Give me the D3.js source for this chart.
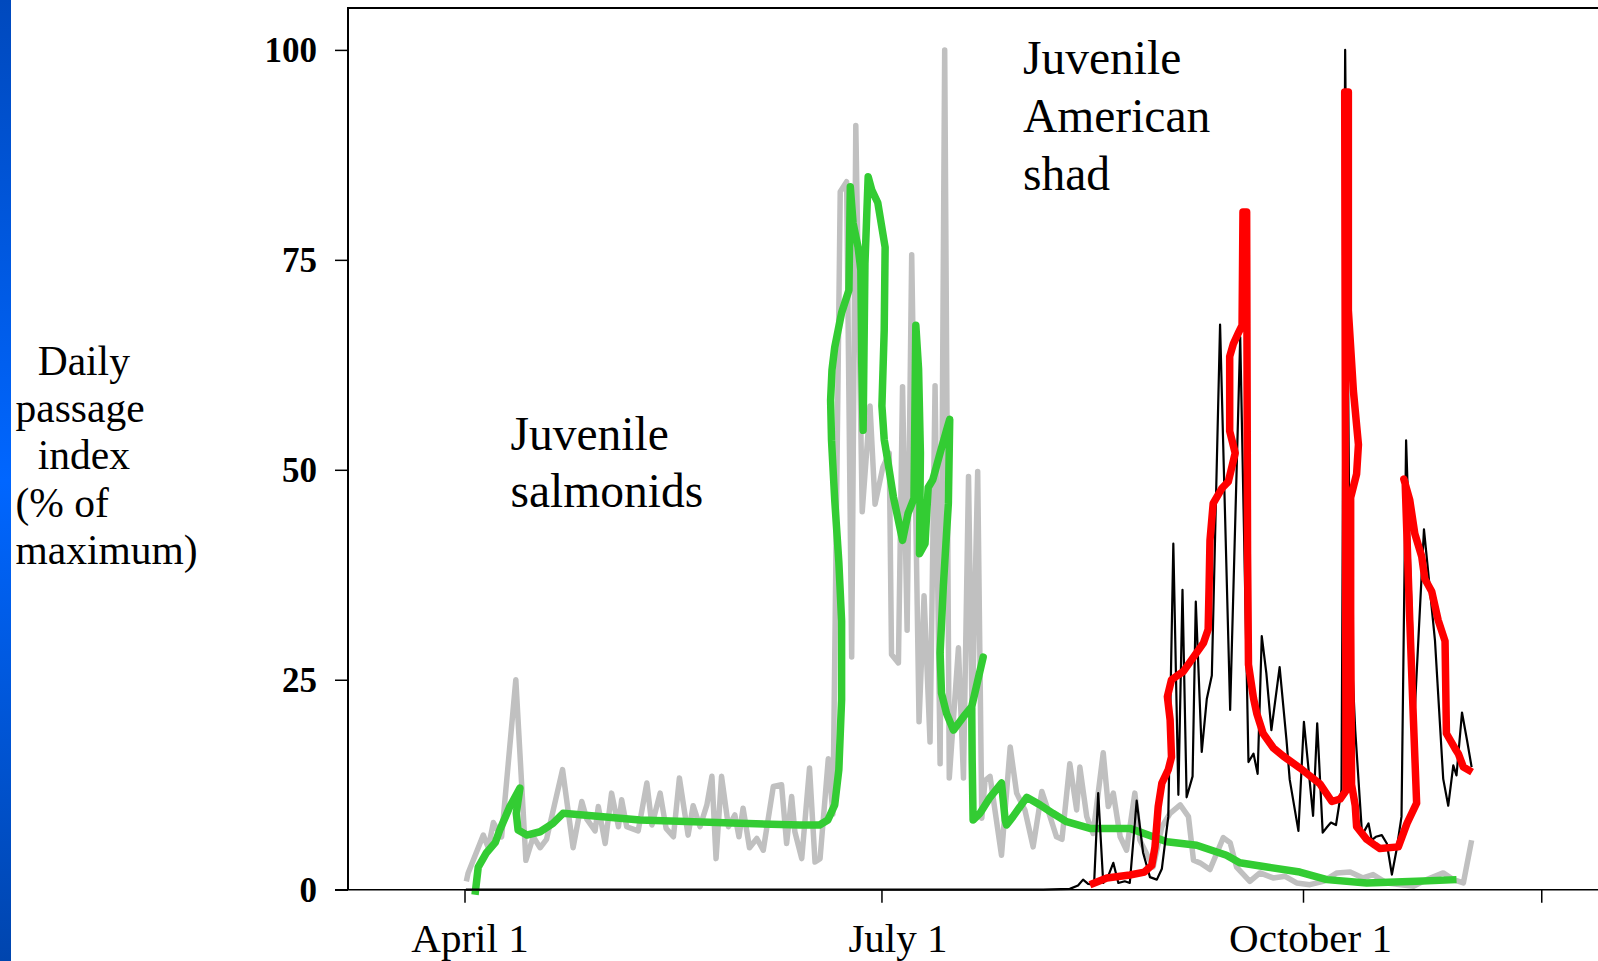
<!DOCTYPE html>
<html>
<head>
<meta charset="utf-8">
<script src="https://cdn.jsdelivr.net/npm/d3@7"></script>
<style>
  body { margin: 0; background: #fff; }
  svg { display: block; }
</style>
</head>
<body>
<div id="chart"></div>
<script>
// ── Data: [days since April 1, % of maximum] ─────────────────────
const salmonDaily = [
  [0.4, 1], [0.8, 2], [4.1, 6.5], [5.2, 5], [6.3, 8], [8.1, 6.3], [11.2, 25], [13.4, 3.5],
  [15.0, 6.3], [16.5, 5], [17.9, 6], [21.4, 14.3], [23.7, 5], [25.6, 10.5], [26.7, 8.4],
  [28.5, 7], [29.2, 9.9], [30.7, 5.5], [32.1, 11.5], [33.6, 7.5], [34.3, 10.7], [35.4, 7.5],
  [37.9, 7], [39.8, 12.7], [40.9, 7.7], [42.7, 11.5], [44.0, 7.3], [45.6, 6.3], [46.9, 13.3],
  [48.8, 6.5], [49.9, 10], [51.4, 7.5], [52.9, 10.1], [54.0, 13.5], [54.9, 3.7], [56.1, 13.5],
  [57.6, 7.5], [59.0, 8.9], [59.9, 6.3], [60.8, 9.7], [62.2, 5], [63.8, 6.1], [65.2, 4.7],
  [67.4, 12.3], [69.2, 12.5], [70.3, 5.5], [71.4, 11.1], [72.1, 6.9], [73.6, 3.7], [75.3, 14.5],
  [76.5, 3.3], [77.6, 3.7], [79.4, 15.6], [80.4, 9], [82.0, 83.1], [83.4, 84.3], [84.5, 27.7],
  [85.4, 91], [86.8, 45], [88.5, 57.6], [89.6, 45.9], [91.3, 50.3], [92.7, 52], [93.2, 28],
  [94.7, 27], [95.6, 59.9], [96.6, 30.9], [97.6, 75.6], [99.2, 20], [100.3, 35], [101.6, 17.6],
  [102.7, 60], [103.8, 15], [104.8, 100], [105.8, 13.3], [107.8, 28.8], [108.9, 13.3],
  [110.0, 49.2], [110.8, 20], [112.0, 49.8], [112.9, 8.5], [113.6, 13], [114.7, 13.5],
  [117.2, 4.1], [119.1, 17], [120.5, 11.5], [122.3, 9.5], [124.1, 5.1], [126.0, 11.7],
  [127.1, 9.9], [129.2, 6.3], [130.4, 6], [132.1, 15], [133.6, 9.5], [134.3, 14.6],
  [135.8, 8.7], [137.2, 6.7], [139.4, 16.3], [140.5, 9.9], [141.6, 11.5], [143.1, 6.3],
  [144.5, 4.7], [146.3, 11.5], [147.4, 5.9], [150.3, 2.7], [152.2, 7.5], [154.0, 9.1],
  [156.2, 10.1], [158.0, 8.7], [159.1, 3.5], [160.5, 3.2], [162.7, 2.4], [165.6, 6.2],
  [167.1, 5.6], [168.5, 2.7], [171.4, 1], [173.6, 2], [176.5, 1.4], [179.1, 1.6], [181.6, 0.8],
  [184.5, 0.6], [187.4, 1], [190.4, 2], [193.3, 2.1], [196.1, 1.4], [198.3, 1.8], [201.3, 0.8],
  [207.1, 0.4], [210.0, 1.2], [213.6, 2], [215.8, 1.2], [218.0, 0.8], [219.8, 5.9]
];

const salmonTrend = [
  [2.3, -0.6], [3.0, 2.7], [4.8, 4.4], [6.7, 5.6], [7.7, 7.1], [9.9, 9.9], [12.1, 12.1],
  [11.3, 9.1], [11.7, 7.1], [13.6, 6.5], [16.5, 6.9], [19.3, 7.9], [21.5, 9.1], [38.3, 8.3],
  [60.1, 7.9], [73.2, 7.7], [77.5, 7.7], [79.3, 8.3], [80.8, 10.1], [81.7, 14.3], [82.3, 22.6],
  [82.3, 32], [81.7, 39], [80.8, 46.4], [80.1, 53.5], [79.9, 58.3], [80.2, 61.9], [80.8, 64.6],
  [82.3, 68.7], [83.9, 71.4], [84.2, 83.7], [84.8, 79.4], [85.9, 76.5], [86.5, 73.8],
  [86.7, 62.7], [87.0, 54.7], [87.4, 74.6], [88.1, 84.9], [88.9, 83.3], [90.2, 81.8],
  [91.8, 76.5], [91.6, 66.6], [91.1, 57.6], [91.6, 53.6], [92.1, 52], [93.6, 46.8],
  [95.6, 41.6], [96.8, 44.8], [98.1, 46.6], [98.5, 67.2], [99.1, 62], [99.5, 52], [99.3, 40],
  [100.5, 41.2], [101.2, 47.9], [102.2, 48.8], [103.8, 52], [105.2, 54.7], [105.9, 56],
  [105.6, 46], [104.5, 36.1], [103.8, 28.2], [104.1, 23.4], [105.2, 21], [106.7, 19],
  [108.9, 20.6], [110.7, 21.8], [113.2, 27.7], [110.7, 21.8], [110.8, 15.4], [111.0, 8.3],
  [112.5, 9.1], [114.7, 11], [117.2, 12.7], [118.0, 8.3], [118.3, 7.7], [119.7, 8.7],
  [122.7, 11], [125.6, 10.1], [128.4, 9.1], [131.4, 8.1], [136.5, 7.3], [145.2, 7.3],
  [150.3, 6.3], [153.3, 5.7], [159.8, 5.3], [166.3, 4.1], [169.2, 3.2], [175.1, 2.7],
  [182.3, 2.1], [188.2, 1.2], [196.9, 0.8], [207.8, 1], [216.5, 1.2]
];

const shadDaily = [
  [0.3, 0], [126.3, 0], [132.1, 0.1], [133.9, 0.5], [135.0, 1.2], [136.1, 0.7], [137.4, 0.6],
  [138.3, 11.5], [139.4, 0.8], [140.4, 1.5], [141.6, 3.2], [142.7, 0.8], [144.1, 1],
  [145.2, 0.8], [146.7, 10.6], [148.1, 4.4], [149.6, 1.5], [151.1, 1.2], [152.2, 2.5],
  [153.6, 8.7], [154.7, 41.2], [155.8, 11.3], [156.7, 35.7], [157.6, 11], [158.9, 13.5],
  [159.6, 34.3], [160.9, 16.4], [162.0, 22.7], [163.1, 25.5], [164.9, 67.3], [167.1, 21.4],
  [169.3, 65.8], [171.1, 15.2], [172.2, 16.2], [173.1, 13.8], [174.0, 30.2], [175.0, 25.8],
  [176.1, 19], [177.9, 26.5], [179.4, 17.8], [180.1, 13.1], [182.0, 7], [183.2, 20],
  [185.2, 8.8], [186.1, 19.8], [187.3, 6.8], [188.3, 7.5], [189.1, 8], [190.2, 7.7],
  [191.4, 11.9], [192.2, 100], [193.3, 32], [194.4, 19], [195.9, 6.5], [197.3, 7.9],
  [198.0, 5.9], [198.9, 6.3], [200.2, 6.5], [201.3, 5.5], [202.4, 1.8], [203.4, 4.7],
  [204.5, 8.7], [205.5, 53.5], [207.4, 21.4], [209.4, 42.9], [211.8, 29.7], [213.6, 13.2],
  [214.7, 10], [215.8, 14.8], [216.5, 13.6], [217.7, 21.1], [218.8, 17.8], [219.8, 14.6]
];

const shadTrend = [
  [136.5, 0.6], [140.2, 1.4], [145.2, 1.75], [148.4, 2.1], [150.0, 2.9], [150.7, 5.1],
  [151.4, 9.9], [152.2, 12.7], [153.6, 14.3], [154.3, 15.8], [154.0, 20.2], [153.4, 23],
  [154.3, 25], [156.9, 26], [159.1, 27.7], [161.3, 29.4], [162.3, 31], [162.5, 36],
  [162.7, 41.6], [163.4, 46], [165.3, 47.8], [166.7, 48.6], [168.2, 52], [167.0, 54.6],
  [167.0, 63.5], [167.8, 65], [168.9, 66.3], [169.7, 67.2], [169.9, 80.7], [170.7, 80.7],
  [170.9, 40], [171.1, 26.8], [172.2, 22.8], [172.9, 21], [174.3, 18.6], [176.5, 16.9],
  [178.7, 15.9], [182.3, 14.5], [186.7, 12.6], [189.3, 10.5], [191.1, 10.8], [192.4, 11.8],
  [192.1, 95], [192.9, 95], [192.9, 69], [194.0, 59.4], [195.1, 53], [194.7, 49.5],
  [193.4, 46.7], [193.4, 33], [193.6, 12.5], [194.4, 10], [194.7, 7.5], [196.9, 6],
  [198.7, 5.3], [199.8, 4.9], [203.8, 5.1], [205.7, 7.9], [207.8, 10.3], [207.1, 20.2],
  [206.3, 32.1], [205.3, 48.4], [205.0, 48.9], [206.3, 46.4], [207.4, 42.4], [208.9, 39.7],
  [209.6, 37], [211.1, 35.5], [212.5, 32.1], [214.0, 29.6], [214.3, 18.6], [216.2, 16.8],
  [216.9, 16.2], [218.0, 14.6], [219.9, 14]
];

const yTicks = [0, 25, 50, 75, 100];
const xTicks = [0, 91, 183, 235];
const xTickLabels = ['April 1', 'July 1', 'October 1', ''];

const yLabelLines = ['Daily', 'passage', 'index', '(% of', 'maximum)'];
const salmonLabel = ['Juvenile', 'salmonids'];
const shadLabel = ['Juvenile', 'American', 'shad'];

// ── Layout ───────────────────────────────────────────────────────
const W = 1598, H = 961;
const SERIF = '"Liberation Serif", "Times New Roman", Times, serif';
const frameLeft = 348, frameTop = 8;

const x = d3.scaleLinear().domain([0, 183]).range([464.5, 1303]);
const y = d3.scaleLinear().domain([0, 100]).range([889.7, 49.9]);

const svg = d3.select('#chart').append('svg')
  .attr('width', W).attr('height', H)
  .attr('viewBox', `0 0 ${W} ${H}`);

svg.append('rect').attr('width', W).attr('height', H).attr('fill', '#fff');

// blue slide edge
const grad = svg.append('defs').append('linearGradient')
  .attr('id', 'edge').attr('x1', 0).attr('y1', 0).attr('x2', 0).attr('y2', 1);
grad.append('stop').attr('offset', '0%').attr('stop-color', '#0049bd');
grad.append('stop').attr('offset', '50%').attr('stop-color', '#0066ff');
grad.append('stop').attr('offset', '100%').attr('stop-color', '#0045ae');
svg.append('rect').attr('x', 0).attr('y', 0).attr('width', 11).attr('height', H)
  .attr('fill', 'url(#edge)');

// ── Frame ────────────────────────────────────────────────────────
svg.append('path')
  .attr('d', `M${frameLeft},${y(0)}V${frameTop}H${W + 5}`)
  .attr('fill', 'none').attr('stroke', '#000').attr('stroke-width', 2);

// ── Axes ─────────────────────────────────────────────────────────
const yAxis = svg.append('g')
  .attr('transform', `translate(${frameLeft},0)`)
  .call(d3.axisLeft(y).tickValues(yTicks).tickSize(13).tickPadding(18));
yAxis.select('.domain').remove();
yAxis.selectAll('line').attr('stroke', '#000').attr('stroke-width', 1.5);
yAxis.selectAll('text')
  .attr('font-family', SERIF).attr('font-size', 35).attr('font-weight', 'bold')
  .attr('fill', '#000').attr('dy', '0.34em');

const xAxis = svg.append('g')
  .attr('transform', `translate(0,${y(0)})`)
  .call(d3.axisBottom(x).tickValues(xTicks).tickSize(13).tickPadding(20)
    .tickFormat((d, i) => xTickLabels[i]));
xAxis.select('.domain').remove();
xAxis.selectAll('line').attr('stroke', '#000').attr('stroke-width', 1.5);
xAxis.selectAll('text')
  .attr('font-family', SERIF).attr('font-size', 41).attr('fill', '#000')
  .attr('dx', (d, i) => [5, 16, 7, 0][i]);

svg.append('line')
  .attr('x1', frameLeft - 13).attr('x2', W + 5)
  .attr('y1', y(0)).attr('y2', y(0))
  .attr('stroke', '#000').attr('stroke-width', 1.5);

// ── Series ───────────────────────────────────────────────────────
const line = d3.line().x(d => x(d[0])).y(d => y(d[1]));

svg.append('path').datum(salmonDaily)
  .attr('d', line).attr('fill', 'none')
  .attr('stroke', '#c0c0c0').attr('stroke-width', 5.5).attr('stroke-linejoin', 'round');

svg.append('path').datum(salmonTrend)
  .attr('d', line).attr('fill', 'none')
  .attr('stroke', '#33cc33').attr('stroke-width', 7.5).attr('stroke-linejoin', 'round');

svg.append('path').datum(shadDaily)
  .attr('d', line).attr('fill', 'none')
  .attr('stroke', '#000').attr('stroke-width', 2.2).attr('stroke-linejoin', 'round');

svg.append('path').datum(shadTrend)
  .attr('d', line).attr('fill', 'none')
  .attr('stroke', '#ff0000').attr('stroke-width', 7.5).attr('stroke-linejoin', 'round');

// ── Text ─────────────────────────────────────────────────────────
const ylab = svg.append('text')
  .attr('font-family', SERIF).attr('font-size', 41.5).attr('fill', '#000');
yLabelLines.forEach((t, i) => {
  ylab.append('tspan')
    .attr('x', (i === 0 || i === 2) ? 37.7 : 15.5)
    .attr('y', 375 + i * 47.2)
    .text(t);
});

function block(lines, x0, y0, step) {
  const t = svg.append('text')
    .attr('font-family', SERIF).attr('font-size', 47.5).attr('fill', '#000');
  lines.forEach((s, i) => t.append('tspan').attr('x', x0).attr('y', y0 + i * step).text(s));
}
block(salmonLabel, 510.5, 450, 57);
block(shadLabel, 1023, 73.5, 58);
</script>
</body>
</html>
